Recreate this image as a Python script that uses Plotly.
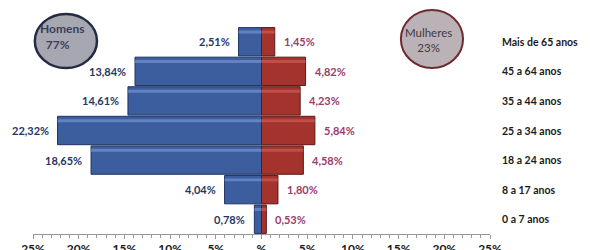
import plotly.graph_objects as go

categories = ["0 a 7 anos", "8 a 17 anos", "18 a 24 anos", "25 a 34 anos",
              "35 a 44 anos", "45 a 64 anos", "Mais de 65 anos"]
homens = [0.78, 4.04, 18.65, 22.32, 14.61, 13.84, 2.51]
mulheres = [0.53, 1.80, 4.58, 5.84, 4.23, 4.82, 1.45]
tick_vals = [-25, -20, -15, -10, -5, 0, 5, 10, 15, 20, 25]
tick_text = ["25%", "20%", "15%", "10%", "5%", "%", "5%", "10%", "15%", "20%", "25%"]
homens_total = ["Homens", "77%"]
mulheres_total = ["Mulheres", "23%"]

FONT = "Lato"
fig = go.Figure()
fig.add_trace(go.Bar(
    y=categories, x=[-v for v in homens], orientation="h",
    marker=dict(color="#3D5E9E", line=dict(color="#1E3462", width=1)),
    hoverinfo="skip"))
fig.add_trace(go.Bar(
    y=categories, x=mulheres, orientation="h",
    marker=dict(color="#A4332E", line=dict(color="#5A1816", width=1)),
    hoverinfo="skip"))
# bevel highlights (overlay axis)
fig.add_trace(go.Bar(
    y=categories, x=[-v for v in homens], orientation="h", yaxis="y2",
    width=0.1, offset=0.28, marker=dict(color="rgba(130,160,220,0.55)", line=dict(width=0)),
    hoverinfo="skip"))
fig.add_trace(go.Bar(
    y=categories, x=mulheres, orientation="h", yaxis="y2",
    width=0.1, offset=0.28, marker=dict(color="rgba(215,110,100,0.5)", line=dict(width=0)),
    hoverinfo="skip"))

def fmt(v):
    return f"{v:.2f}".replace(".", ",") + "%"

ann = []
for c, h, m in zip(categories, homens, mulheres):
    ann.append(dict(x=-h, y=c, text=fmt(h), showarrow=False, xanchor="right",
                    xshift=-7, font=dict(family=FONT, size=11, color="#1F3864", weight="bold")))
    ann.append(dict(x=m, y=c, text=fmt(m), showarrow=False, xanchor="left",
                    xshift=7, font=dict(family=FONT, size=11, color="#9E3A6C", weight="bold")))
    ann.append(dict(x=1, xref="paper", y=c, text=c, showarrow=False, xanchor="left",
                    xshift=10, font=dict(family=FONT, size=10.5, color="#1A1A1A", weight="bold")))

# circles with totals
fig.add_shape(type="circle", xref="paper", yref="paper", layer="below",
              x0=0.004, x1=0.140, y0=0.802, y1=1.063,
              fillcolor="#A7A7B1", line=dict(color="#262B45", width=2.5))
fig.add_shape(type="circle", xref="paper", yref="paper", layer="below",
              x0=0.805, x1=0.941, y0=0.802, y1=1.082,
              fillcolor="#BAB2B6", line=dict(color="#6E2A30", width=2))
ann += [
    dict(x=0.064, y=0.955, xref="paper", yref="paper",
         text=homens_total[0] + "<br>\u00a0\u00a0" + homens_total[1], showarrow=False,
         xanchor="center", yanchor="middle", align="left",
         font=dict(family=FONT, size=12, color="#3A3F5A", weight="bold")),
    dict(x=0.866, y=0.935, xref="paper", yref="paper",
         text=mulheres_total[0] + "<br>" + mulheres_total[1], showarrow=False,
         xanchor="center", yanchor="middle", align="center",
         font=dict(family=FONT, size=11.5, color="#3F3A42")),
]

fig.update_layout(
    width=600, height=250, margin=dict(l=33, r=110, t=27, b=16, autoexpand=False),
    paper_bgcolor="white", plot_bgcolor="rgba(0,0,0,0)",
    barmode="relative", bargap=0.04, showlegend=False,
    annotations=ann,
    xaxis=dict(range=[-25, 25], tickvals=tick_vals, ticktext=tick_text, automargin=False,
               showgrid=False, zeroline=False, showline=True, linecolor="#999999",
               ticks="outside", ticklen=4, tickcolor="#999999",
               minor=dict(dtick=1, ticks="outside", ticklen=3, tickcolor="#999999"),
               tickfont=dict(family=FONT, size=12, color="#1A1A1A", weight="bold")),
    yaxis=dict(showticklabels=False, showgrid=False, zeroline=False, showline=False,
               automargin=False, range=[-0.5, 6.5]),
    yaxis2=dict(overlaying="y", showticklabels=False, showgrid=False, zeroline=False,
                showline=False, automargin=False, range=[-0.5, 6.5],
                categoryorder="array", categoryarray=categories),
)
fig.write_html("out.html")
